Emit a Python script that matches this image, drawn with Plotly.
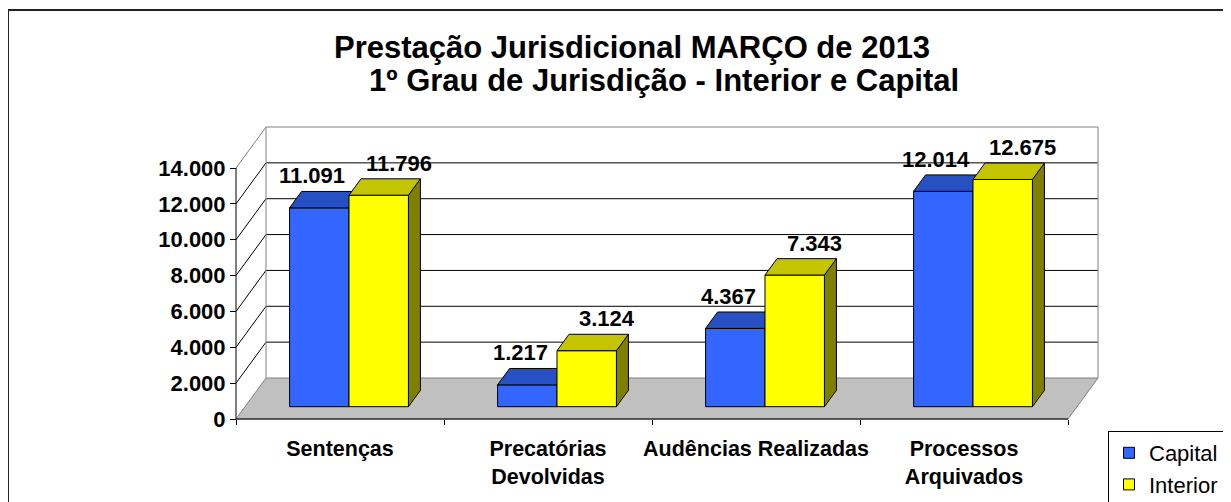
import plotly.graph_objects as go

# ---------------- data ----------------
categories = ["Sentenças", "Precatórias<br>Devolvidas", "Audências Realizadas", "Processos<br>Arquivados"]
capital = [11091, 1217, 4367, 12014]
interior = [11796, 3124, 7343, 12675]
series_names = ["Capital", "Interior"]
y_ticks = [0, 2000, 4000, 6000, 8000, 10000, 12000, 14000]
title_line1 = "Prestação Jurisdicional MARÇO de 2013"
title_line2 = "1º Grau de Jurisdição - Interior e Capital"

# ---------------- geometry (screen pixels) ----------------
OFF = 8                                    # page body margin
W, H = 1231 - OFF, 502 - OFF               # figure size
L, R, T, B = 200, 1110, 115, 430           # plot area (screen pixels)
X0, Y0 = 236, 419                          # front origin of the 3D box
CAT_PX = 208                               # pixels per category
YMAX = y_ticks[-1]
V_PX = 251 / YMAX                          # pixels per value unit
DX, DY = 30, 41                            # depth vector in pixels
ddx, ddy = DX / CAT_PX, DY / V_PX          # depth vector in axis units
n_cat = len(categories)


def xu(px):
    return (px - X0) / CAT_PX


def yv(py):
    return (Y0 - py) / V_PX


def px_paper_x(px):
    return (px - L) / (R - L)


def px_paper_y(py):
    return (B - py) / (B - T)


def P(u, v, d):
    return (u + d * ddx, v + d * ddy)


FONT = "Arial, Liberation Sans, sans-serif"

fig = go.Figure()


def add_poly(polys, fill, line_color, width=1):
    xs, ys = [], []
    for poly in polys:
        for (x, y) in poly + [poly[0]]:
            xs.append(x)
            ys.append(y)
        xs.append(None)
        ys.append(None)
    fig.add_trace(go.Scatter(x=xs, y=ys, mode="lines", fill="toself", fillcolor=fill,
                             line=dict(color=line_color, width=width),
                             showlegend=False, hoverinfo="skip"))


def add_lines(segs, color, width=1):
    xs, ys = [], []
    for (a, b) in segs:
        xs += [a[0], b[0], None]
        ys += [a[1], b[1], None]
    fig.add_trace(go.Scatter(x=xs, y=ys, mode="lines", line=dict(color=color, width=width),
                             showlegend=False, hoverinfo="skip"))


# floor
add_poly([[P(0, 0, 0), P(n_cat, 0, 0), P(n_cat, 0, 1), P(0, 0, 1)]], "#C0C0C0", "#808080")

# back wall gridlines and side-wall diagonals
inner = [t for t in y_ticks if 0 < t < YMAX]
add_lines([(P(0, t, 1), P(n_cat, t, 1)) for t in inner], "#000000")
add_lines([(P(0, t, 0), P(0, t, 1)) for t in inner], "#000000")
# wall edges
add_lines([(P(0, 0, 1), P(0, YMAX, 1)),
           (P(0, YMAX, 1), P(n_cat, YMAX, 1)),
           (P(n_cat, 0, 1), P(n_cat, YMAX, 1)),
           (P(0, YMAX, 0), P(0, YMAX, 1))], "#808080")

# bars
w = 1 / (len(series_names) + 1.5)
front_d, back_d = 0.3, 0.7
styles = [dict(front="#3366FF", top="#2650C4", side="#1F3F99"),
          dict(front="#FFFF00", top="#C4C400", side="#808000")]
label_xshift = [-7, 20]
annotations = []
for s, vals in enumerate([capital, interior]):
    fronts, tops, sides = [], [], []
    for i, v in enumerate(vals):
        u0 = i + 0.75 * w + s * w
        u1 = u0 + w
        fronts.append([P(u0, 0, front_d), P(u1, 0, front_d), P(u1, v, front_d), P(u0, v, front_d)])
        tops.append([P(u0, v, front_d), P(u1, v, front_d), P(u1, v, back_d), P(u0, v, back_d)])
        sides.append([P(u1, 0, front_d), P(u1, 0, back_d), P(u1, v, back_d), P(u1, v, front_d)])
        lx, ly = P((u0 + u1) / 2, v, front_d)
        annotations.append(dict(x=lx, y=ly, xref="x", yref="y", text=f"{v:,}".replace(",", "."),
                                showarrow=False, xanchor="center", yanchor="middle",
                                xshift=label_xshift[s], yshift=32,
                                font=dict(family=FONT, size=22, color="black", weight="bold")))
    add_poly(sides, styles[s]["side"], "#000000")
    add_poly(fronts, styles[s]["front"], "#000000")
    add_poly(tops, styles[s]["top"], "#000000")

# front axis lines
add_lines([(P(0, 0, 0), P(n_cat, 0, 0)), (P(0, 0, 0), P(0, YMAX, 0))], "#000000")

# legend entries
for s, name in enumerate(series_names):
    fig.add_trace(go.Scatter(x=[None], y=[None], mode="markers", name=name,
                             marker=dict(symbol="square", size=11, color=styles[s]["front"],
                                         line=dict(color="black", width=1))))

# titles
annotations.append(dict(x=px_paper_x(632), y=px_paper_y(47), xref="paper", yref="paper",
                        text=title_line1, showarrow=False, xanchor="center", yanchor="middle",
                        font=dict(family=FONT, size=31, color="black", weight="bold")))
annotations.append(dict(x=px_paper_x(664), y=px_paper_y(81), xref="paper", yref="paper",
                        text=title_line2, showarrow=False, xanchor="center", yanchor="middle",
                        font=dict(family=FONT, size=31, color="black", weight="bold")))

fig.update_layout(
    width=W, height=H, autosize=False,
    margin=dict(l=L - OFF, r=W - (R - OFF), t=T - OFF, b=H - (B - OFF), pad=0, autoexpand=False),
    paper_bgcolor="white", plot_bgcolor="white",
    separators=",.",
    showlegend=True,
    legend=dict(xref="container", yref="container", x=(1108 - OFF) / W, y=1 - (431 - OFF) / H,
                xanchor="left", yanchor="top", bgcolor="white", bordercolor="black", borderwidth=1,
                font=dict(family=FONT, size=22, color="black"), itemwidth=30, tracegroupgap=2),
    xaxis=dict(range=[xu(L), xu(R)], anchor="free", position=px_paper_y(Y0),
               showgrid=False, zeroline=False, showline=False,
               tickmode="array", tickvals=[i + 0.5 for i in range(n_cat)], ticktext=categories,
               ticks="outside", ticklen=10, tickcolor="rgba(0,0,0,0)",
               tickfont=dict(family=FONT, size=21.5, color="black", weight="bold"),
               minor=dict(tickmode="array", tickvals=list(range(n_cat + 1)), ticks="outside",
                          ticklen=5, tickcolor="black", tickwidth=1, showgrid=False)),
    yaxis=dict(range=[yv(B), yv(T)], anchor="free", position=px_paper_x(X0),
               showgrid=False, zeroline=False, showline=False,
               tickmode="array", tickvals=y_ticks, tickformat=",d",
               ticks="outside", ticklen=6, tickcolor="black",
               tickfont=dict(family=FONT, size=22, color="black", weight="bold")),
    annotations=annotations,
    shapes=[dict(type="rect", xref="paper", yref="paper",
                 x0=px_paper_x(8), x1=px_paper_x(1227), y0=px_paper_y(520), y1=px_paper_y(10),
                 line=dict(color="#222222", width=2), fillcolor="rgba(0,0,0,0)", layer="below")],
)

fig.write_html("out.html")
